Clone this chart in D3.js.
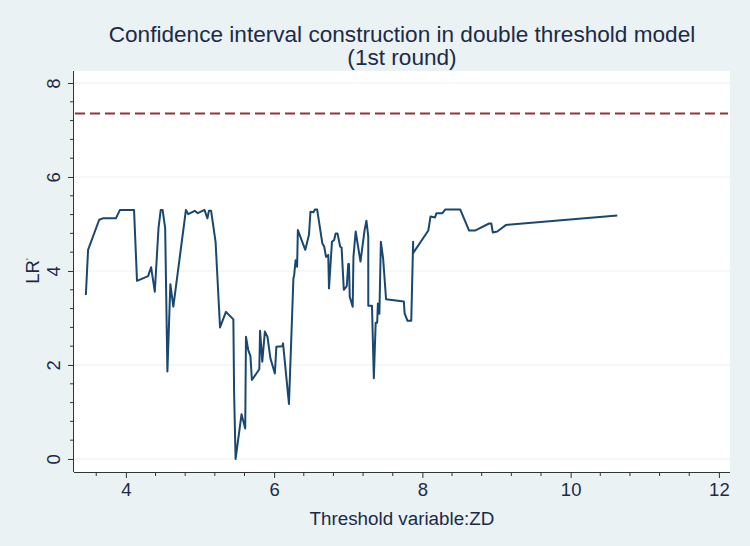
<!DOCTYPE html>
<html><head><meta charset="utf-8">
<script src="https://cdn.jsdelivr.net/npm/d3@7"></script>
<style>body{margin:0;background:#eaf2f3;}svg{display:block;font-family:"Liberation Sans",Arial,sans-serif;}</style>
</head><body><svg id="c" width="750" height="546"></svg>
<script>
const titleLines = ["Confidence interval construction in double threshold model", "(1st round)"];
const xLabel = "Threshold variable:ZD";
const yLabel = "LR";
const xTicks = [4, 6, 8, 10, 12];
const yTicks = [0, 2, 4, 6, 8];
const critical = 7.35;
const zd = [3.46,3.49,3.64,3.69,3.865,3.92,4.11,4.15,4.30,4.34,4.39,4.44,4.47,4.495,4.53,4.56,4.60,4.64,4.81,4.84,4.93,4.97,5.06,5.10,5.12,5.15,5.21,5.27,5.35,5.45,5.46,5.48,5.56,5.61,5.62,5.65,5.68,5.70,5.80,5.81,5.84,5.875,5.91,5.95,6.01,6.03,6.11,6.12,6.13,6.20,6.26,6.27,6.29,6.31,6.32,6.42,6.47,6.49,6.53,6.55,6.58,6.65,6.675,6.70,6.73,6.74,6.78,6.81,6.83,6.855,6.89,6.91,6.94,6.98,7.00,7.01,7.02,7.06,7.07,7.10,7.165,7.22,7.245,7.27,7.27,7.32,7.345,7.37,7.39,7.40,7.42,7.44,7.47,7.51,7.75,7.76,7.80,7.85,7.875,7.875,8.08,8.11,8.17,8.19,8.27,8.31,8.51,8.63,8.71,8.90,8.93,8.95,9.01,9.13,10.63];
const lr = [3.49,4.45,5.09,5.12,5.12,5.30,5.30,3.79,3.89,4.08,3.56,4.91,5.30,5.30,4.91,1.86,3.72,3.24,5.30,5.21,5.28,5.23,5.30,5.12,5.28,5.28,4.62,2.80,3.13,2.97,1.4,0.0,0.95,0.65,2.60,2.32,2.19,1.68,1.91,2.73,2.07,2.71,2.60,2.14,1.82,2.39,2.40,2.46,2.30,1.17,3.84,3.91,4.23,4.09,4.87,4.45,4.77,5.26,5.25,5.31,5.31,4.59,4.52,4.30,4.34,3.63,4.62,4.66,4.80,4.80,4.52,4.50,3.60,3.68,4.15,4.15,3.45,3.24,4.30,4.84,4.20,4.87,5.07,4.73,3.26,3.26,1.72,2.90,2.90,3.31,3.09,4.62,4.27,3.40,3.35,3.10,2.94,2.94,4.62,4.38,4.86,5.16,5.14,5.23,5.23,5.31,5.31,4.86,4.86,5.01,5.01,4.82,4.84,4.98,5.18];

const svg = d3.select("#c");
const L=74,R=730,T=71,B=472;
const x = d3.scaleLinear().domain([3.30,12.15]).range([L,R]);
const y = d3.scaleLinear().domain([-0.277,8.255]).range([B,T]);
const txt = "#1c2a48";

svg.append("rect").attr("width",750).attr("height",546).attr("fill","#eaf2f3");
svg.append("rect").attr("x",L).attr("y",T).attr("width",R-L).attr("height",B-T).attr("fill","#ffffff");

// gridlines
svg.append("g").selectAll("line").data(yTicks).join("line")
  .attr("x1",L).attr("x2",R).attr("y1",d=>y(d)).attr("y2",d=>y(d))
  .attr("stroke","#eaf2f3").attr("stroke-width",1.2);

// titles
svg.append("g").selectAll("text").data(titleLines).join("text")
  .attr("x",402).attr("y",(d,i)=>42+i*23).attr("text-anchor","middle")
  .attr("font-size",22.6).attr("fill",txt).text(d=>d);

// x axis
const xMinor = d3.range(3.6,12.01,0.4).filter(v=>Math.abs(v/2-Math.round(v/2))>0.01);
const gx = svg.append("g").attr("transform",`translate(0,${B})`);
gx.call(d3.axisBottom(x).tickValues(xTicks).tickSize(6).tickPadding(5).tickFormat(d3.format("d")));
gx.select(".domain").attr("d",`M${L},0.5H${R}`).attr("stroke","#333");
gx.selectAll(".tick line").attr("stroke","#333");
gx.selectAll("text").attr("font-size",18.5).attr("fill",txt).attr("font-family","Liberation Sans, Arial, sans-serif");
gx.selectAll(".minor").data(xMinor).join("line").attr("class","minor")
  .attr("x1",d=>x(d)).attr("x2",d=>x(d)).attr("y1",0).attr("y2",4).attr("stroke","#333");

// y axis
const yMinor = d3.range(0,8.01,0.4).filter(v=>Math.abs(v/2-Math.round(v/2))>0.01);
const gy = svg.append("g").attr("transform",`translate(${L},0)`);
gy.call(d3.axisLeft(y).tickValues(yTicks).tickSize(6).tickPadding(6).tickFormat(d3.format("d")));
gy.select(".domain").attr("d",`M-0.5,${T}V${B}`).attr("stroke","#333");
gy.selectAll(".tick line").attr("stroke","#333");
gy.selectAll(".tick text").attr("font-size",18.5).attr("fill",txt).attr("font-family","Liberation Sans, Arial, sans-serif")
  .attr("text-anchor","middle").attr("dy",0).attr("x",0)
  .attr("transform","translate(-20,0) rotate(-90)").attr("y",6);
gy.selectAll(".minor").data(yMinor).join("line").attr("class","minor")
  .attr("y1",d=>y(d)).attr("y2",d=>y(d)).attr("x1",0).attr("x2",-4).attr("stroke","#333");

// axis titles
svg.append("text").attr("x",402).attr("y",525).attr("text-anchor","middle")
  .attr("font-size",18.8).attr("fill",txt).text(xLabel);
const yl = svg.append("text").attr("transform","translate(39,271) rotate(-90)").attr("text-anchor","middle")
  .attr("font-size",18.5).attr("fill",txt);
yl.append("tspan").text(yLabel);
yl.append("tspan").attr("font-size",9).attr("dy",-7).text("'");

// critical value line
svg.append("line").attr("x1",L+1).attr("x2",R-2).attr("y1",y(critical)).attr("y2",y(critical))
  .attr("stroke","#90353b").attr("stroke-width",2).attr("stroke-dasharray","10,5");

// LR line
const pts = zd.map((v,i)=>[v,lr[i]]);
svg.append("path").datum(pts).attr("fill","none").attr("stroke","#1a476f").attr("stroke-width",2)
  .attr("stroke-linejoin","round")
  .attr("d",d3.line().x(d=>x(d[0])).y(d=>y(d[1])));
</script></body></html>
